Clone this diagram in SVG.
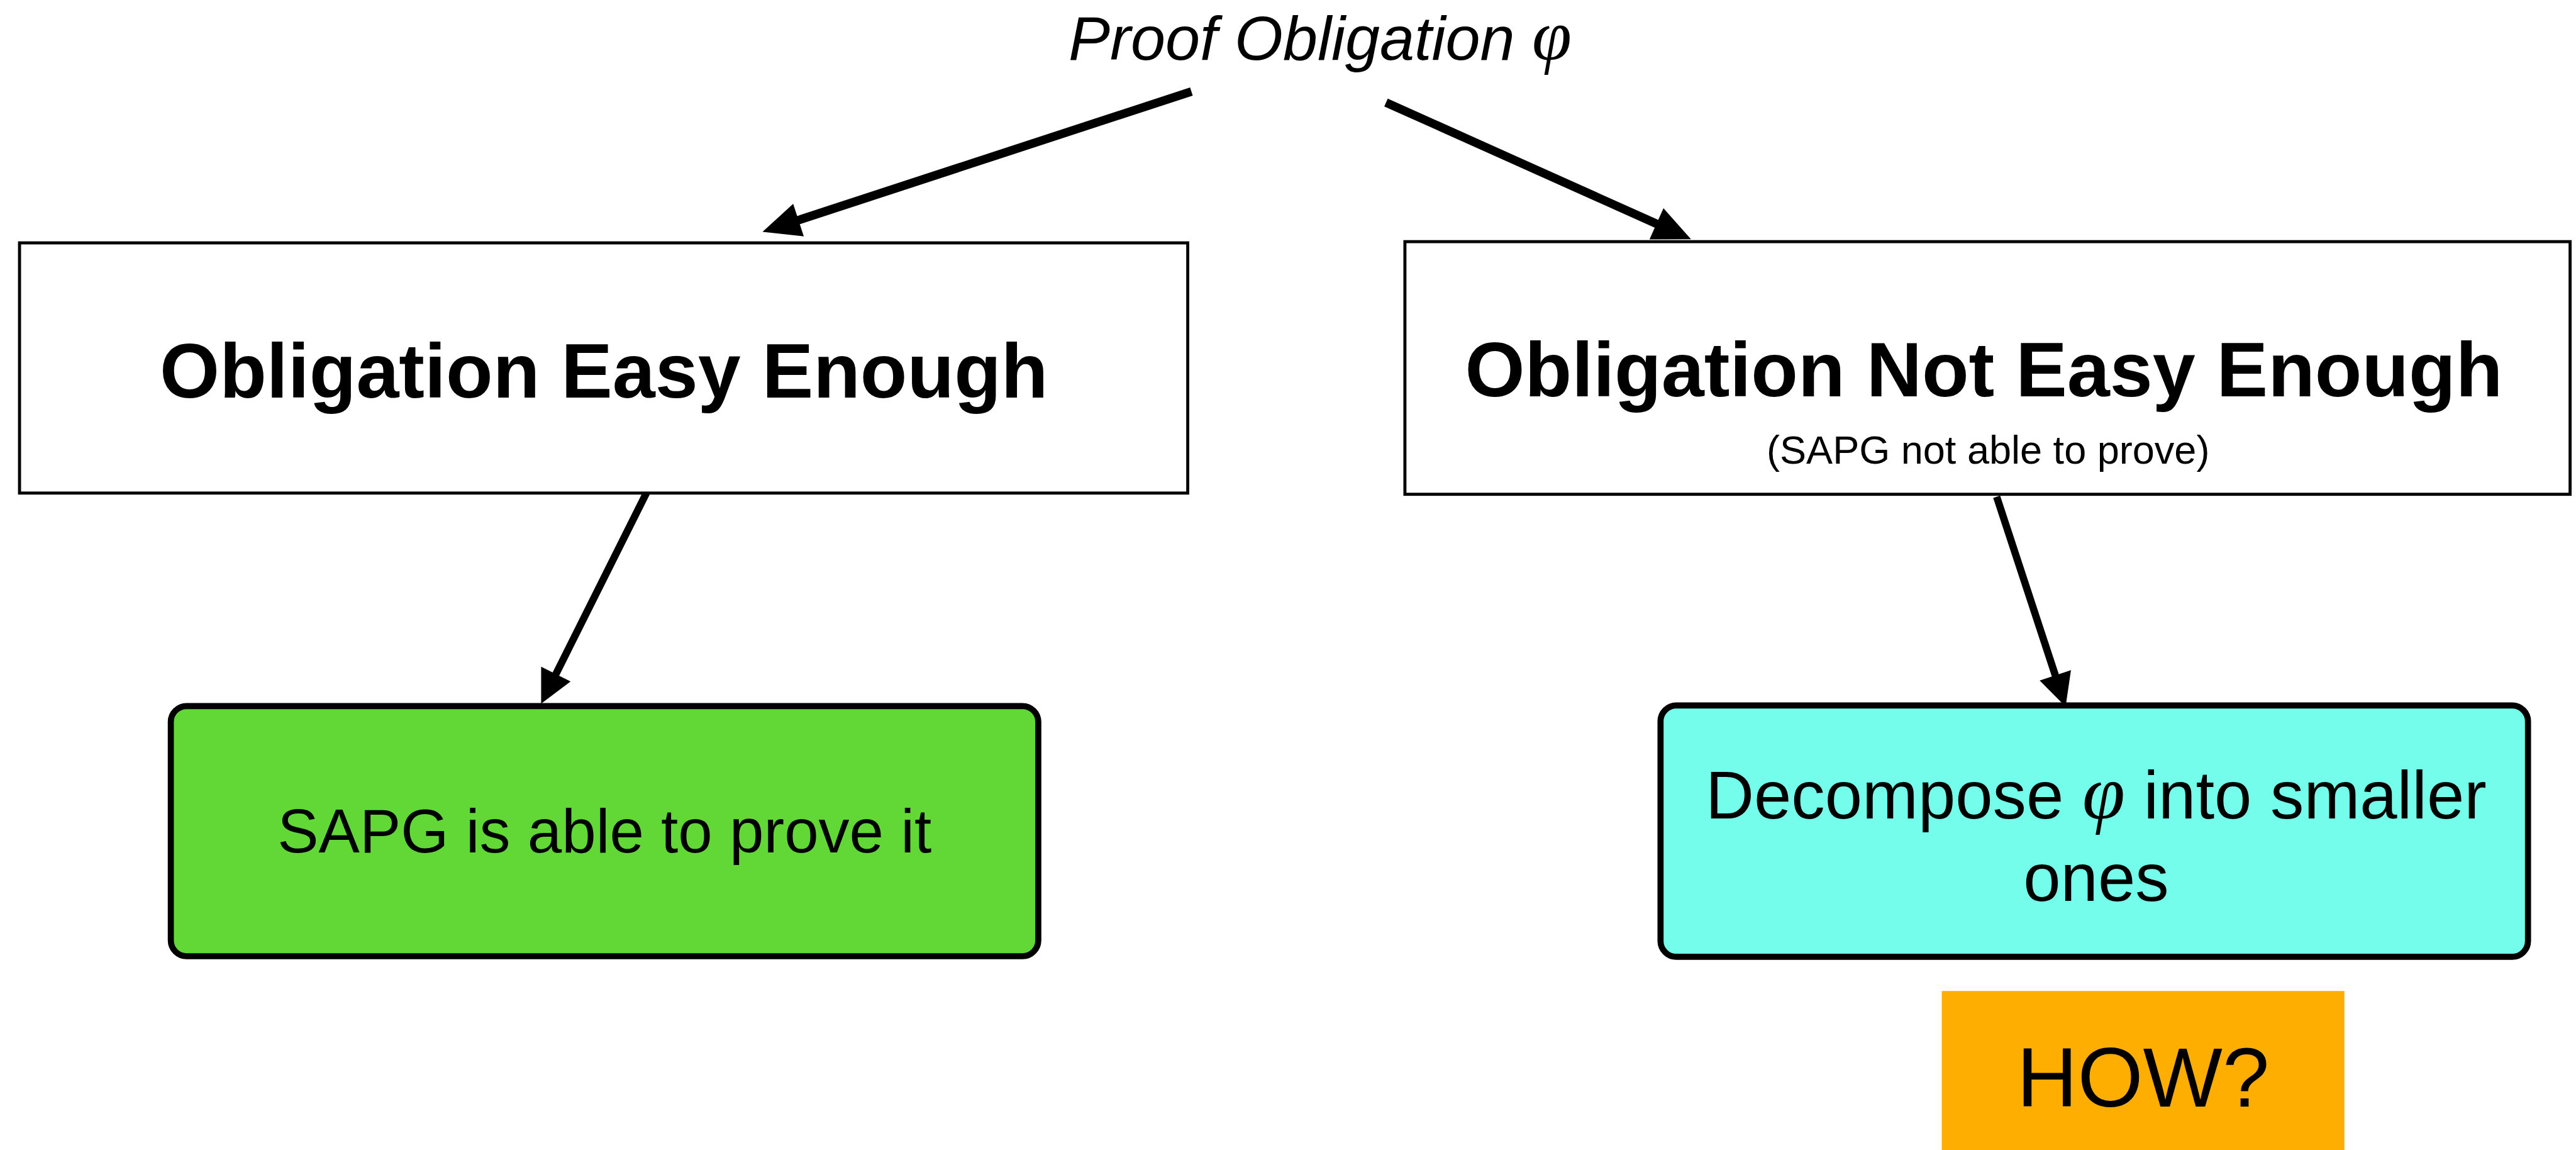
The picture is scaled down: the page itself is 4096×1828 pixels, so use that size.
<svg xmlns="http://www.w3.org/2000/svg" width="4096" height="1828" viewBox="0 0 4096 1828">
  <style>
    .sans { font-family: "Liberation Sans", Arial, Helvetica, sans-serif; fill: #000; }
    .math { font-family: "Liberation Serif", "Times New Roman", serif; font-style: italic; font-size: 1.15em; }
    .title { font-size: 102px; font-style: italic; }
    .head { font-size: 126px; font-weight: bold; }
    .sub { font-size: 65px; }
    .body { font-size: 101px; }
    .body2 { font-size: 110px; }
    .how { font-size: 138px; }
    .plain { fill: #ffffff; stroke: #000; stroke-width: 5; }
    .round { stroke: #000; stroke-width: 10; }
    .edge { fill: none; stroke: #000; stroke-linecap: butt; }
  </style>
  <defs>
    <marker id="headBig" markerUnits="userSpaceOnUse" orient="auto" refX="0" refY="0" markerWidth="70" markerHeight="70" overflow="visible">
      <path d="M-2,-28 L60,0 L-2,28 z" fill="#000"/>
    </marker>
    <marker id="headSmall" markerUnits="userSpaceOnUse" orient="auto" refX="0" refY="0" markerWidth="70" markerHeight="70" overflow="visible">
      <path d="M-2,-27 L52,0 L-2,27 z" fill="#000"/>
    </marker>
  </defs>
  <rect width="4096" height="1828" fill="#ffffff"/>
  <g transform="scale(0.97)">
    <g id="connectors">
      <line class="edge" x1="1953" y1="150" x2="1307" y2="361.3" stroke-width="14" marker-end="url(#headBig)"/>
      <line class="edge" x1="2272" y1="168" x2="2717.2" y2="367.5" stroke-width="14" marker-end="url(#headBig)"/>
      <line class="edge" x1="1062" y1="803" x2="910.3" y2="1106.5" stroke-width="12" marker-end="url(#headSmall)"/>
      <line class="edge" x1="3273" y1="814" x2="3369.8" y2="1108.6" stroke-width="12" marker-end="url(#headSmall)"/>
    </g>
    <g id="proof-obligation">
      <text class="sans title" x="2164" y="98" text-anchor="middle">Proof Obligation <tspan class="math">φ</tspan></text>
    </g>
    <g id="easy-enough">
      <rect class="plain" x="32" y="398" width="1915" height="410"/>
      <text class="sans head" x="990" y="652" text-anchor="middle">Obligation Easy Enough</text>
    </g>
    <g id="not-easy-enough">
      <rect class="plain" x="2303" y="396" width="1910" height="414"/>
      <text class="sans head" x="3252" y="649" text-anchor="middle">Obligation Not Easy Enough</text>
      <text class="sans sub" x="3259" y="760" text-anchor="middle">(SAPG not able to prove)</text>
    </g>
    <g id="sapg-proves">
      <rect class="round" x="280" y="1157" width="1422" height="410" rx="26" fill="#61D836"/>
      <text class="sans body" x="991" y="1397" text-anchor="middle">SAPG is able to prove it</text>
    </g>
    <g id="decompose">
      <rect class="round" x="2722" y="1156" width="1422" height="412" rx="26" fill="#73FDEA"/>
      <text class="sans body2" x="3436" y="1341" text-anchor="middle">Decompose <tspan class="math">φ</tspan> into smaller</text>
      <text class="sans body2" x="3436" y="1476" text-anchor="middle">ones</text>
    </g>
    <g id="how">
      <rect x="3183" y="1624" width="660" height="270" fill="#FEAE00"/>
      <text class="sans how" x="3513" y="1813" text-anchor="middle">HOW?</text>
    </g>
  </g>
</svg>
